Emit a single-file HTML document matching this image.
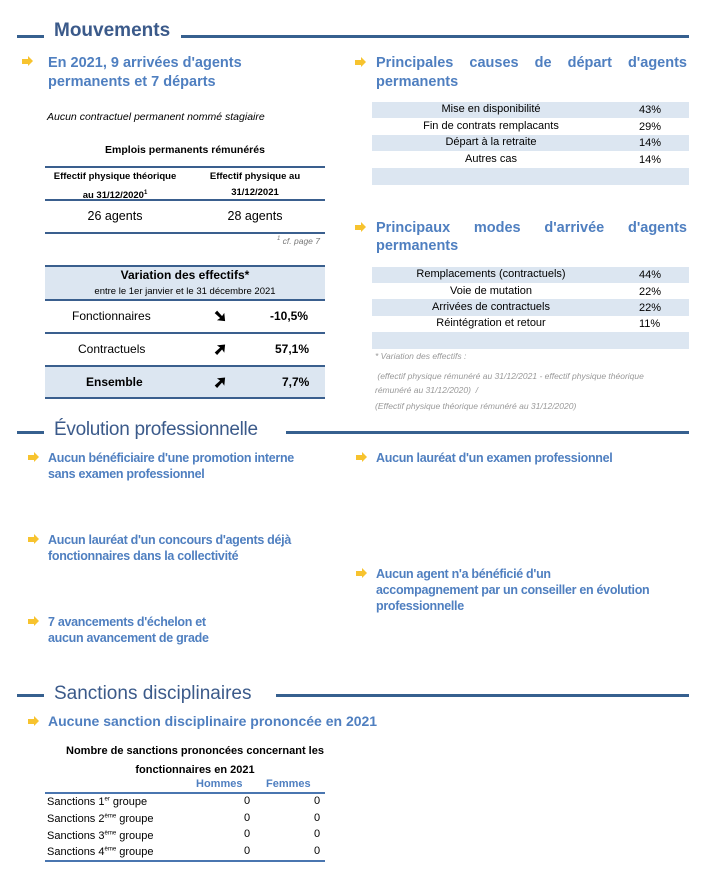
<!DOCTYPE html>
<html><head><meta charset="utf-8"><style>
body{margin:0;width:719px;height:875px;background:#fff;position:relative;font-family:"Liberation Sans",sans-serif;overflow:hidden}
.a{position:absolute}
.ln{position:absolute;height:3px;background:#36608f}
.h{position:absolute;color:#3b5a8a;font-weight:bold;font-size:19px;white-space:nowrap}
.st{position:absolute;color:#4f7fc0;font-weight:bold;font-size:14.5px;line-height:19px}
.ev{position:absolute;color:#4f7fc0;font-weight:bold;font-size:12.5px;line-height:16px;letter-spacing:-0.3px}
.ar{position:absolute;width:0;height:0}
.ar::before{content:"";position:absolute;left:0;top:3px;width:6px;height:5px;background:#f7c32e}
.ar::after{content:"";position:absolute;left:6px;top:0;border-left:5px solid #f7c32e;border-top:5.5px solid transparent;border-bottom:5.5px solid transparent}
.c{position:absolute;text-align:center;font-size:11px;color:#000}
.bg{position:absolute;background:#dce6f1}
.bl{position:absolute;height:3px;background:#3a5f8e}
.gr{position:absolute;color:#999;font-style:italic;font-size:8.5px}
.r{position:absolute;font-size:11px;color:#000;white-space:nowrap}
.ic{position:absolute;font-size:15px;font-weight:bold;line-height:15px;-webkit-text-stroke:1px #000}
</style></head><body>
<div class="ln" style="left:17px;top:35px;width:27px"></div>
<div class="h" style="left:54px;top:20px">Mouvements</div>
<div class="ln" style="left:181px;top:35px;width:508px"></div>

<div class="ar" style="left:22px;top:56px"></div>
<div class="st" style="left:48px;top:54px">En 2021, 9 arrivées d'agents<br>permanents et 7 départs</div>
<div class="a" style="left:47px;top:111px;font-size:10.5px;font-style:italic">Aucun contractuel permanent nommé stagiaire</div>
<div class="c" style="left:45px;width:280px;top:144px;font-weight:bold;font-size:10.5px">Emplois permanents rémunérés</div>
<div class="bl" style="left:45px;top:166px;width:280px;height:2px"></div>
<div class="c" style="left:45px;width:140px;top:168px;font-weight:bold;font-size:9.5px;line-height:17px">Effectif physique théorique<br>au 31/12/2020<sup style="font-size:6px">1</sup></div>
<div class="c" style="left:185px;width:140px;top:169px;font-weight:bold;font-size:9.5px;line-height:16px">Effectif physique au<br>31/12/2021</div>
<div class="bl" style="left:45px;top:199px;width:280px;height:2px"></div>
<div class="c" style="left:45px;width:140px;top:209px;font-size:12.5px">26 agents</div>
<div class="c" style="left:185px;width:140px;top:209px;font-size:12.5px">28 agents</div>
<div class="bl" style="left:45px;top:232px;width:280px;height:2px"></div>
<div class="gr" style="left:260px;top:236px;width:60px;text-align:right;color:#777"><sup style="font-size:6px">1</sup> cf. page 7</div>

<div class="bg" style="left:45px;top:266px;width:280px;height:34px"></div>
<div class="bl" style="left:45px;top:265px;width:280px;height:2px"></div>
<div class="c" style="left:45px;width:280px;top:268px;font-weight:bold;font-size:12px">Variation des effectifs*</div>
<div class="c" style="left:45px;width:280px;top:286px;font-size:9.5px">entre le 1er janvier et le 31 décembre 2021</div>
<div class="bl" style="left:45px;top:299px;width:280px;height:2px"></div>
<div class="r" style="left:72px;top:309px;font-size:12px">Fonctionnaires</div>
<div class="ic" style="left:214px;top:309px">➘</div>
<div class="r" style="left:270px;top:309px;font-size:12px;font-weight:bold">-10,5%</div>
<div class="bl" style="left:45px;top:332px;width:280px;height:2px"></div>
<div class="r" style="left:78px;top:342px;font-size:12px">Contractuels</div>
<div class="ic" style="left:214px;top:342px">➚</div>
<div class="r" style="left:275px;top:342px;font-size:12px;font-weight:bold">57,1%</div>
<div class="bg" style="left:45px;top:366px;width:280px;height:31px"></div>
<div class="bl" style="left:45px;top:365px;width:280px;height:2px"></div>
<div class="r" style="left:86px;top:375px;font-size:12px;font-weight:bold">Ensemble</div>
<div class="ic" style="left:214px;top:375px">➚</div>
<div class="r" style="left:282px;top:375px;font-size:12px;font-weight:bold">7,7%</div>
<div class="bl" style="left:45px;top:397px;width:280px;height:2px"></div>

<div class="ar" style="left:355px;top:57px"></div>
<div class="st" style="left:376px;top:54px;width:311px;text-align:justify;text-align-last:justify">Principales causes de départ d'agents</div>
<div class="st" style="left:376px;top:73px">permanents</div>
<div class="bg" style="left:372px;top:102px;width:317px;height:16px"></div>
<div class="bg" style="left:372px;top:135px;width:317px;height:16px"></div>
<div class="bg" style="left:372px;top:168px;width:317px;height:17px"></div>
<div class="c" style="left:372px;width:238px;top:103px">Mise en disponibilité</div><div class="r" style="left:639px;top:104px">43%</div>
<div class="c" style="left:372px;width:238px;top:120px">Fin de contrats remplacants</div><div class="r" style="left:639px;top:121px">29%</div>
<div class="c" style="left:372px;width:238px;top:136px">Départ à la retraite</div><div class="r" style="left:639px;top:137px">14%</div>
<div class="c" style="left:372px;width:238px;top:153px">Autres cas</div><div class="r" style="left:639px;top:154px">14%</div>

<div class="ar" style="left:355px;top:222px"></div>
<div class="st" style="left:376px;top:219px;width:311px;text-align:justify;text-align-last:justify">Principaux modes d'arrivée d'agents</div>
<div class="st" style="left:376px;top:237px">permanents</div>
<div class="bg" style="left:372px;top:267px;width:317px;height:16px"></div>
<div class="bg" style="left:372px;top:299px;width:317px;height:17px"></div>
<div class="bg" style="left:372px;top:332px;width:317px;height:17px"></div>
<div class="c" style="left:372px;width:238px;top:268px">Remplacements (contractuels)</div><div class="r" style="left:639px;top:269px">44%</div>
<div class="c" style="left:372px;width:238px;top:285px">Voie de mutation</div><div class="r" style="left:639px;top:286px">22%</div>
<div class="c" style="left:372px;width:238px;top:301px">Arrivées de contractuels</div><div class="r" style="left:639px;top:302px">22%</div>
<div class="c" style="left:372px;width:238px;top:317px">Réintégration et retour</div><div class="r" style="left:639px;top:318px">11%</div>
<div class="gr" style="left:375px;top:351px">* Variation des effectifs :</div>
<div class="gr" style="left:375px;top:369px;width:300px;line-height:14px">&nbsp;(effectif physique rémunéré au 31/12/2021 - effectif physique théorique rémunéré au 31/12/2020)&nbsp; /</div>
<div class="gr" style="left:375px;top:401px">(Effectif physique théorique rémunéré au 31/12/2020)</div>

<div class="ln" style="left:17px;top:431px;width:27px"></div>
<div class="h" style="left:54px;top:419px;font-weight:normal;font-size:19px;letter-spacing:-0.3px">Évolution professionnelle</div>
<div class="ln" style="left:286px;top:431px;width:403px"></div>
<div class="ar" style="left:28px;top:452px"></div>
<div class="ev" style="left:48px;top:450px">Aucun bénéficiaire d'une promotion interne<br>sans examen professionnel</div>
<div class="ar" style="left:28px;top:534px"></div>
<div class="ev" style="left:48px;top:532px">Aucun lauréat d'un concours d'agents déjà<br>fonctionnaires dans la collectivité</div>
<div class="ar" style="left:28px;top:616px"></div>
<div class="ev" style="left:48px;top:614px">7 avancements d'échelon et<br>aucun avancement de grade</div>
<div class="ar" style="left:356px;top:452px"></div>
<div class="ev" style="left:376px;top:450px">Aucun lauréat d'un examen professionnel</div>
<div class="ar" style="left:356px;top:568px"></div>
<div class="ev" style="left:376px;top:566px">Aucun agent n'a bénéficié d'un<br>accompagnement par un conseiller en évolution<br>professionnelle</div>

<div class="ln" style="left:17px;top:694px;width:27px"></div>
<div class="h" style="left:54px;top:683px;font-weight:normal;font-size:19px">Sanctions disciplinaires</div>
<div class="ln" style="left:276px;top:694px;width:413px"></div>
<div class="ar" style="left:28px;top:716px"></div>
<div class="st" style="left:48px;top:712px;font-size:14px">Aucune sanction disciplinaire prononcée en 2021</div>
<div class="c" style="left:45px;width:300px;top:742px;font-weight:bold;line-height:19px">Nombre de sanctions prononcées concernant les<br>fonctionnaires en 2021</div>
<div class="r" style="left:196px;top:778px;color:#4f7fc0;font-weight:bold">Hommes</div>
<div class="r" style="left:266px;top:778px;color:#4f7fc0;font-weight:bold">Femmes</div>
<div class="bl" style="left:45px;top:792px;width:280px;height:2px;background:#4a76b0"></div>
<div class="r" style="left:47px;top:796px">Sanctions 1<sup style="font-size:6px">er</sup> groupe</div>
<div class="r" style="left:47px;top:813px">Sanctions 2<sup style="font-size:6px">ème</sup> groupe</div>
<div class="r" style="left:47px;top:830px">Sanctions 3<sup style="font-size:6px">ème</sup> groupe</div>
<div class="r" style="left:47px;top:846px">Sanctions 4<sup style="font-size:6px">ème</sup> groupe</div>
<div class="r" style="left:244px;top:795px">0</div><div class="r" style="left:314px;top:795px">0</div>
<div class="r" style="left:244px;top:812px">0</div><div class="r" style="left:314px;top:812px">0</div>
<div class="r" style="left:244px;top:828px">0</div><div class="r" style="left:314px;top:828px">0</div>
<div class="r" style="left:244px;top:845px">0</div><div class="r" style="left:314px;top:845px">0</div>
<div class="bl" style="left:45px;top:860px;width:280px;height:2px;background:#4a76b0"></div>
</body></html>
